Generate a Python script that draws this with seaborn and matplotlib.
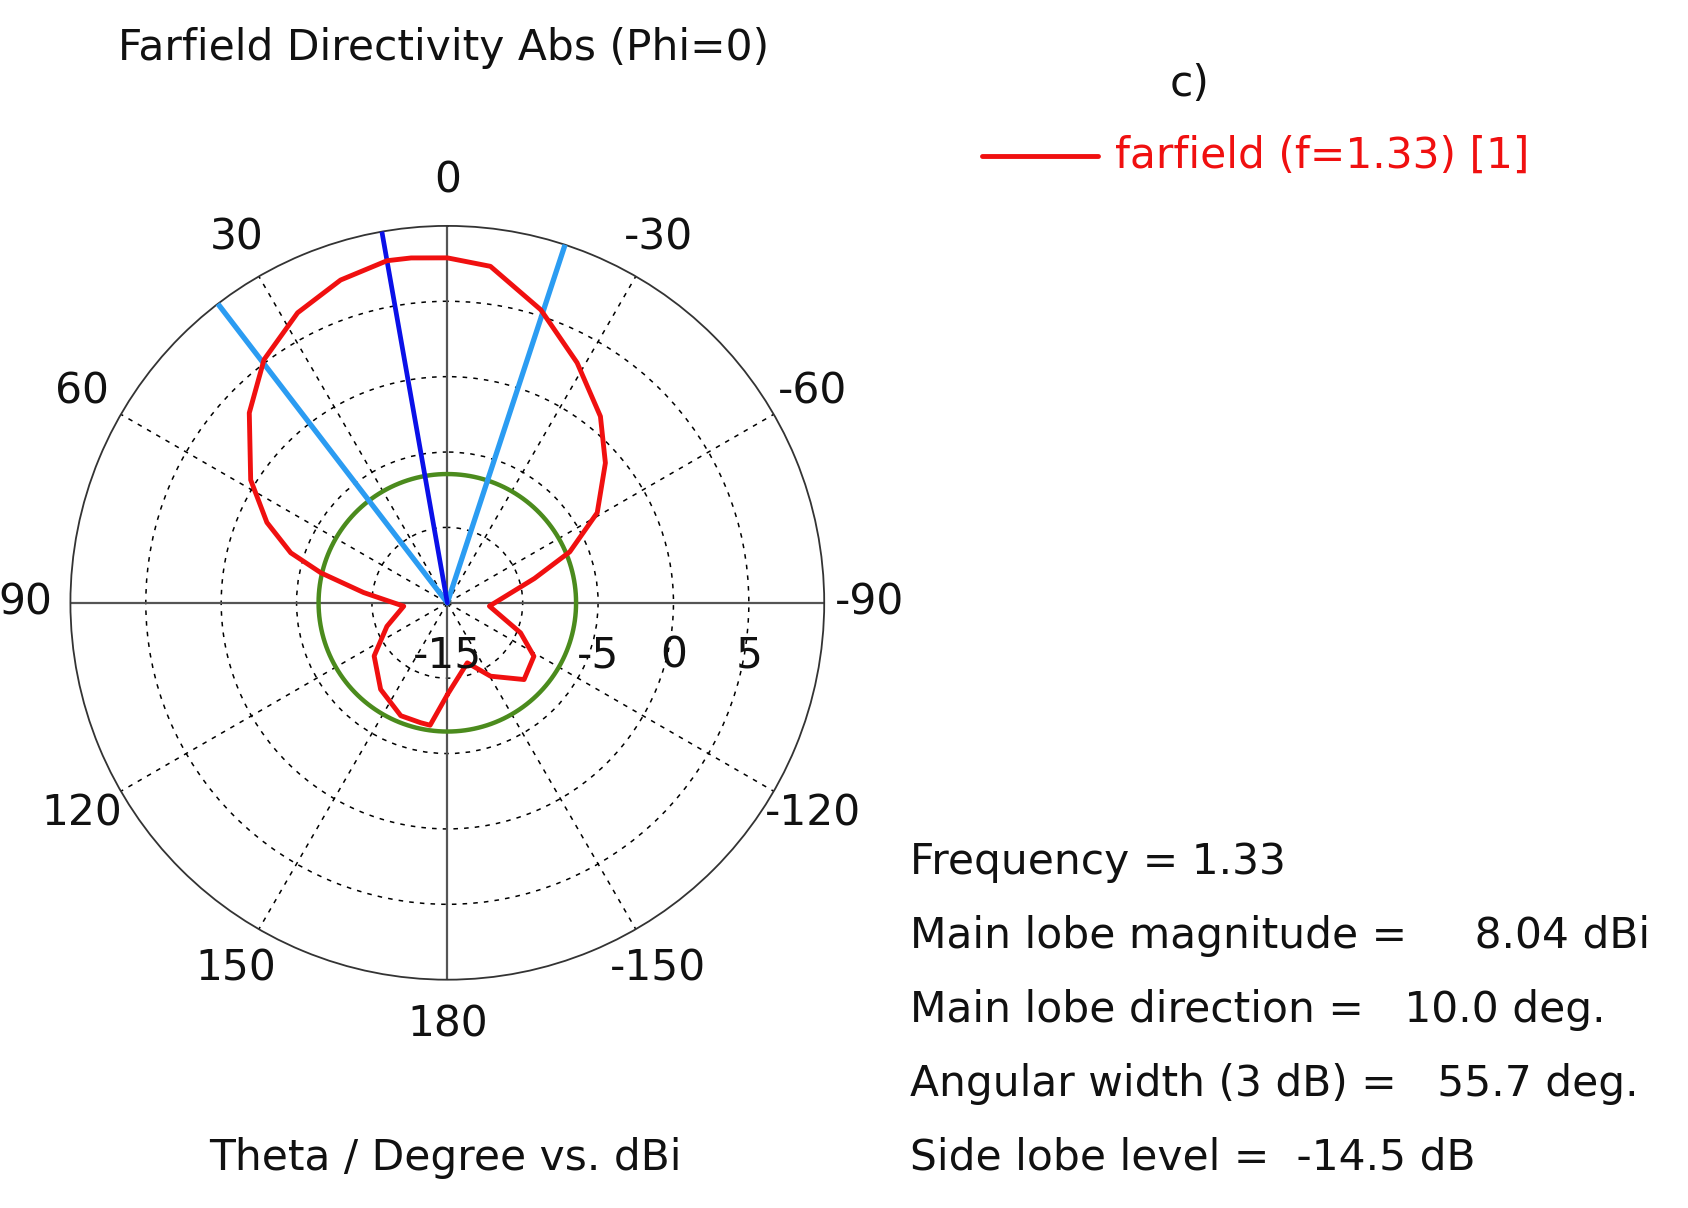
import numpy as np
import pandas as pd
import matplotlib
matplotlib.use("Agg")
import matplotlib.pyplot as plt
import seaborn as sns

# ------------------------------------------------------- #
#                          DATOS                          #
# ------------------------------------------------------- #
theta_deg = [180, 172, 167.5, 157.6, 142.4, 126, 111.3, 94.5, 83, 76.7, 72.3, 66,
             58, 46.2, 37, 27.3, 18.3, 10, 6, 0, -7.3, -17.7, -28.4, -39.4, -48.5,
             -59, -67.4, -74.4, -94.5, -112.3, -121.7, -135, -149.5, -161.6,
             -177.8, -180]
dbi = [-8.9, -6.8, -6.85, -6.9, -7.75, -9.0, -10.7, -12.1, -9.4, -6.4, -4.1, -1.9,
       0.38, 3.2, 5.2, 6.65, 7.55, 8.04, 8.0, 7.88, 7.5, 5.4, 3.1, 1.0, -1.0,
       -3.4, -6.2, -9.0, -12.2, -9.75, -8.25, -7.8, -9.35, -10.8,
       -9.25, -8.9]

main_dir = 10.0
beam_edges = [37.5, -18.2]
side_lobe_ring = 8.04 - 14.5
r_min, r_max = -15, 10
radial_labels = [-15, -5, 0, 5]
angle_ticks = list(range(0, 360, 30))

info = ["Frequency = 1.33",
        "Main lobe magnitude =     8.04 dBi",
        "Main lobe direction =   10.0 deg.",
        "Angular width (3 dB) =   55.7 deg.",
        "Side lobe level =  -14.5 dB"]

df = pd.DataFrame({"theta": np.deg2rad(theta_deg), "dbi": dbi})

# ------------------------------------------------------- #
#                      VISUALIZACIÓN                      #
# ------------------------------------------------------- #
sns.set_style("white")
plt.rcParams['font.family'] = ['DejaVu Sans']
FS = 30.5
fig = plt.figure(figsize=(16.88, 12.08), dpi=100)
ax = fig.add_axes([0.0415, 0.189, 0.447, 0.624], projection='polar')
ax.set_theta_zero_location('N')
ax.set_theta_direction(1)
ax.set_ylim(r_min, r_max)

ax.set_xticks(np.deg2rad(angle_ticks))
ax.set_xticklabels([str(a if a <= 180 else a - 360) for a in angle_ticks], fontsize=FS,
                   color='#111111')
ax.tick_params(axis='x', pad=22)
ax.set_yticks([-10, -5, 0, 5])
ax.set_yticklabels([])
ax.grid(True, color='k', ls=(0, (3, 4)), lw=1.1)
ax.spines['polar'].set_color('#333333')
ax.spines['polar'].set_linewidth(1.3)

# ejes principales
for a in [0, 90]:
    t = np.deg2rad([a, a + 180])
    ax.plot([t[0], t[0]], [r_min, r_max], color='#555555', lw=1.6, zorder=2)
    ax.plot([t[1], t[1]], [r_min, r_max], color='#555555', lw=1.6, zorder=2)

# anillo del lóbulo lateral
ring = np.linspace(0, 2 * np.pi, 361)
ax.plot(ring, np.full_like(ring, side_lobe_ring), color='#4b8b1d', lw=3.2, zorder=3)

# lóbulo principal
for a in beam_edges:
    ax.plot([np.deg2rad(a)] * 2, [r_min, r_max], color='#2b9cf2', lw=3.8, zorder=4)
ax.plot([np.deg2rad(main_dir)] * 2, [r_min, r_max], color='#0a10e8', lw=3.4, zorder=5)

sns.lineplot(data=df, x='theta', y='dbi', sort=False, color='#f01010', lw=3.5, ax=ax, zorder=6)
ax.set_xlabel('')
ax.set_ylabel('')

off = matplotlib.transforms.ScaledTranslation(0, -0.32, fig.dpi_scale_trans)
for v in radial_labels:
    ax.text(np.deg2rad(-90), v, str(v), fontsize=FS, ha='center', va='top',
            color='#111111', transform=ax.transData + off, zorder=7)

fig.text(118 / 1688, 1 - 48 / 1208, 'Farfield Directivity Abs (Phi=0)', fontsize=FS,
         va='center', color='#111111')
fig.text(1190 / 1688, 1 - 84 / 1208, 'c)', fontsize=FS, ha='center', va='center', color='#111111')
fig.add_artist(plt.Line2D([982 / 1688, 1098 / 1688], [1 - 156 / 1208] * 2, color='#f01010', lw=3.5))
fig.text(1115 / 1688, 1 - 156 / 1208, 'farfield (f=1.33) [1]', fontsize=FS, color='#f01010', va='center')
for i, line in enumerate(info):
    fig.text(910 / 1688, 1 - (862 + 74 * i) / 1208, line, fontsize=FS, va='center', color='#111111')
fig.text(445 / 1688, 1 - 1158 / 1208, 'Theta / Degree vs. dBi', fontsize=FS, ha='center',
         va='center', color='#111111')

plt.savefig('out.png', dpi=100)
